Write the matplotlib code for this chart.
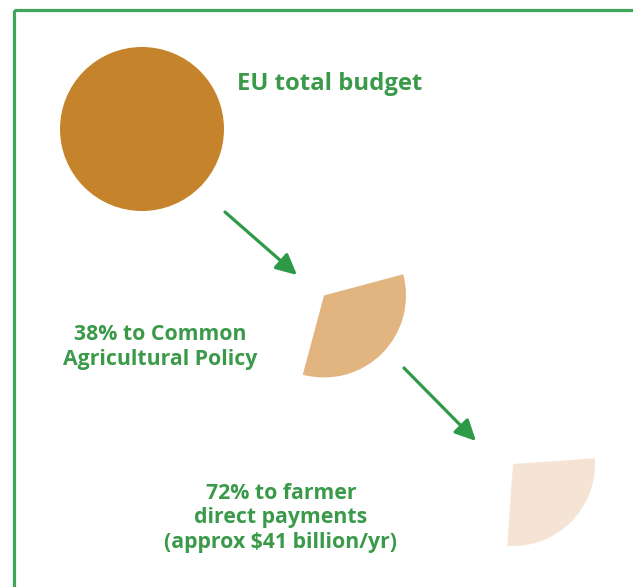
import matplotlib
matplotlib.use("Agg")
import matplotlib.pyplot as plt
from matplotlib.patches import Circle, Wedge, Rectangle, FancyArrowPatch

# data
labels = ["EU total budget",
          "38% to Common\nAgricultural Policy",
          "72% to farmer\ndirect payments\n(approx $41 billion/yr)"]
shares = [1.00, 0.38, 0.72]
wedge_span_deg = [360, 120, 98]   # spans as drawn in the graphic

green = "#3a9a4a"
border_green = "#3ea55a"
fills = ["#c5832b", "#e2b47f", "#f5e4d3"]

plt.rcParams['font.family'] = ['Open Sans', 'DejaVu Sans']

fig = plt.figure(figsize=(6.33, 5.87), dpi=100)
ax = fig.add_axes([0, 0, 1, 1])
ax.set_xlim(0, 633)
ax.set_ylim(587, 0)
ax.set_aspect('equal')
ax.axis('off')

# frame (runs off the right and bottom edge)
ax.add_patch(Rectangle((14, 9.5), 640, 600, fill=False, edgecolor=border_green, lw=2.3))

r = 82
# whole budget
ax.add_patch(Circle((142, 129), r, color=fills[0], lw=0))

# wedges: (apex, rotation of first edge) -- y axis points down, so angles flip
apexes = [(324, 295.5), (513, 464)]
rot = [-15, -4]
for i, (c, t0) in enumerate(zip(apexes, rot)):
    ax.add_patch(Wedge(c, r, t0, t0 + wedge_span_deg[i + 1], color=fills[i + 1], lw=0))

# arrows
for (x0, y0), (x1, y1) in [((225, 212), (297, 275)), ((404, 368), (476, 441))]:
    ax.add_patch(FancyArrowPatch((x0, y0), (x1, y1), arrowstyle='-|>,head_length=6.3,head_width=3.1',
                                 color="#2e9a47", lw=2.3, shrinkA=0, shrinkB=0,
                                 mutation_scale=2))

ax.text(237, 84, labels[0], color=green, fontsize=17.2, fontweight='bold', ha='left', va='center')
ax.text(160.5, 347, labels[1], color=green, fontsize=15.3, fontweight='bold', ha='center', va='center',
        linespacing=1.2)
ax.text(281, 518, labels[2], color=green, fontsize=15.3, fontweight='bold', ha='center', va='center',
        linespacing=1.22)

fig.savefig("out.png", dpi=100)
